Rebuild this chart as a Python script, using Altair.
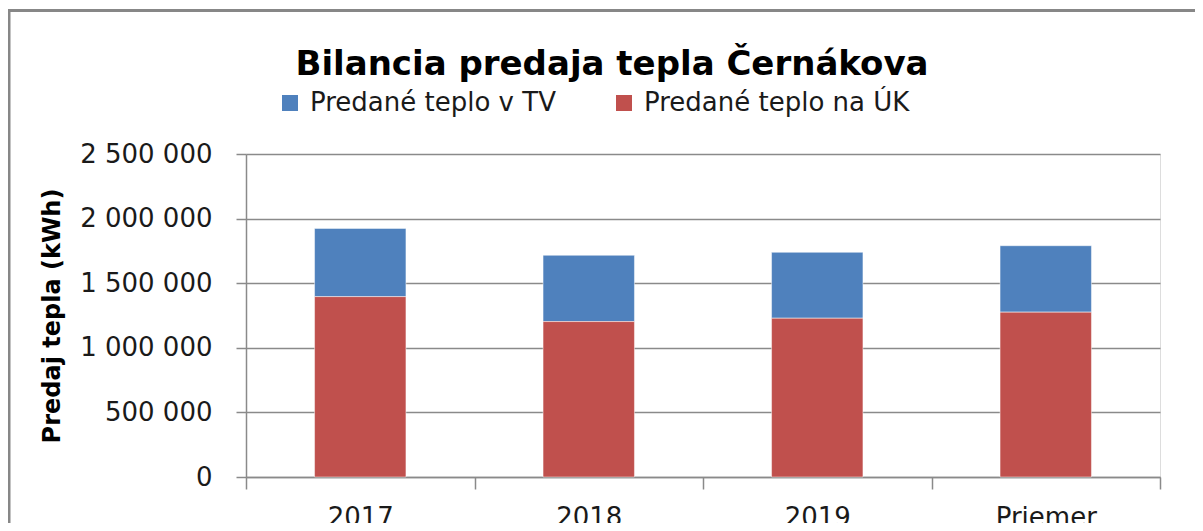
import altair as alt
import pandas as pd

categories = ["2017", "2018", "2019", "Priemer"]
series_names = ["Predané teplo v TV", "Predané teplo na ÚK"]
teplo_tv = [528000, 513000, 510000, 514000]
teplo_uk = [1396000, 1203000, 1229000, 1276000]
y_ticks = [0, 500000, 1000000, 1500000, 2000000, 2500000]
colors = ["#4F81BD", "#C0504D"]

rows = []
for i, c in enumerate(categories):
    rows.append({"rok": c, "seria": series_names[0], "hodnota": teplo_tv[i], "poradie": 1})
    rows.append({"rok": c, "seria": series_names[1], "hodnota": teplo_uk[i], "poradie": 0})
df = pd.DataFrame(rows)

FONT = "DejaVu Sans"
GRID = "#8a8a8a"

bars = alt.Chart(df).mark_bar(stroke="#ffffff", strokeWidth=0.8, strokeOpacity=0.6,
                              width=alt.RelativeBandSize(0.4)).encode(
    x=alt.X("rok:N", sort=categories,
            scale=alt.Scale(paddingInner=0, paddingOuter=0),
            axis=alt.Axis(title=None, labelAngle=0, labelFont=FONT, labelFontSize=26,
                          labelColor="#1a1a1a", labelPadding=15, tickBand="extent",
                          tickSize=12, tickColor=GRID, tickWidth=1.5,
                          domainColor=GRID, domainWidth=1.5, grid=False)),
    y=alt.Y("sum(hodnota):Q",
            scale=alt.Scale(domain=[0, 2500000], nice=False),
            axis=alt.Axis(title="Predaj tepla (kWh)", values=y_ticks,
                          labelExpr="replace(replace(format(datum.value, ','), ',', ' '), ',', ' ')",
                          labelFont=FONT, labelFontSize=26, labelColor="#1a1a1a",
                          labelPadding=24, tickSize=10, tickColor=GRID, tickWidth=1.5,
                          domainColor=GRID, domainWidth=1.5,
                          grid=True, gridColor=GRID, gridWidth=1.5,
                          titleFont=FONT, titleFontSize=24, titleFontWeight="bold",
                          titleColor="#000000", titleX=-194, titleY=161.5,
                          titleAlign="center", titleBaseline="middle", titleAngle=270)),
    color=alt.Color("seria:N", sort=series_names,
                    scale=alt.Scale(domain=series_names, range=colors),
                    legend=alt.Legend(title=None, orient="none", direction="horizontal",
                                      legendX=31, legendY=-64, padding=0,
                                      symbolType="square", symbolSize=256,
                                      symbolStrokeWidth=0, labelFont=FONT,
                                      labelFontSize=26, labelColor="#1a1a1a",
                                      labelOffset=7, labelLimit=500, columnPadding=55)),
    order=alt.Order("poradie:Q"),
)

frame_data = alt.Data(values=[{"k": 1}])
frame_left = alt.Chart(frame_data).mark_rule(color="#878787", strokeWidth=3).encode(
    x=alt.value(-237), y=alt.value(-143.5), y2=alt.value(420))
frame_top = alt.Chart(frame_data).mark_rule(color="#878787", strokeWidth=3).encode(
    x=alt.value(-238.5), x2=alt.value(1000), y=alt.value(-143.5))

chart = alt.layer(bars, frame_left, frame_top).properties(
    width=914, height=323,
    title=alt.TitleParams("Bilancia predaja tepla Černákova", font=FONT, fontSize=34,
                          fontWeight="bold", color="#000000", anchor="middle",
                          frame="group", dx=-91, offset=-100, baseline="alphabetic"),
    padding={"left": 238, "top": 146, "right": 35, "bottom": 46},
    autosize=alt.AutoSizeParams(type="none"),
).configure_view(stroke=None).configure(background="#ffffff")

chart.save("out.html", embed_options={"renderer": "svg", "actions": False})
